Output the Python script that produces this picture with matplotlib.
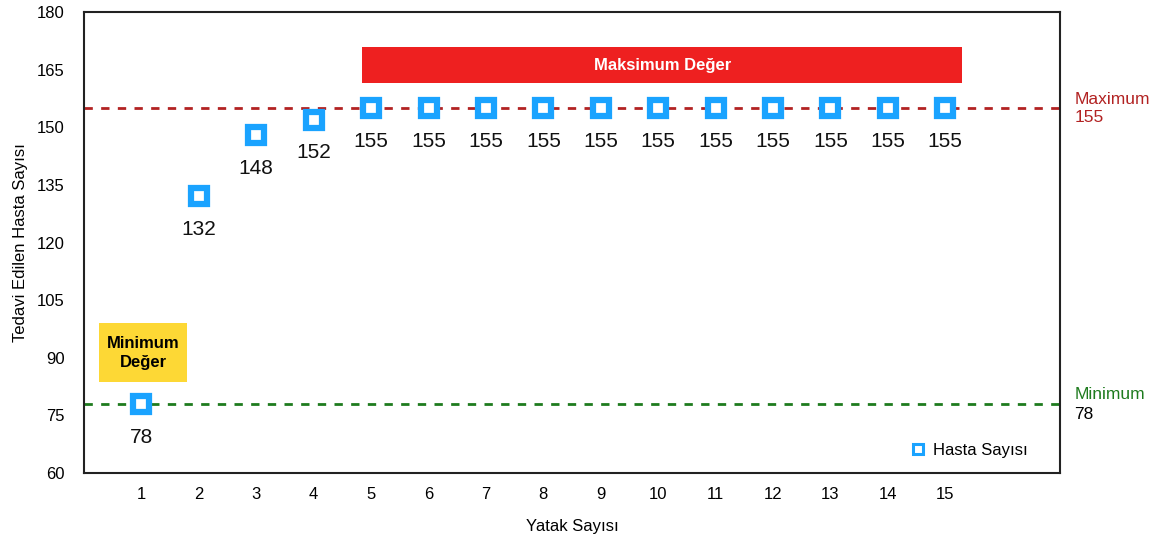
import numpy as np
import matplotlib
matplotlib.use('Agg')
import matplotlib.pyplot as plt
from matplotlib.patches import Rectangle
from matplotlib.lines import Line2D

plt.rcParams['font.family'] = ['Liberation Sans', 'DejaVu Sans']

# Data
#-----------------------------------------------------------------------------#
beds     = [1, 2, 3, 4, 5, 6, 7, 8, 9, 10, 11, 12, 13, 14, 15]
patients = [78, 132, 148, 152, 155, 155, 155, 155, 155, 155, 155, 155, 155, 155, 155]
y_ticks  = [60, 75, 90, 105, 120, 135, 150, 165, 180]
p_max    = max(patients)
p_min    = min(patients)

blue  = '#1AA3FF'
red   = '#B22222'
green = '#1E7B1E'

# Figure
#-----------------------------------------------------------------------------#
fig = plt.figure(figsize=(11.56, 5.39), dpi=100)
ax  = fig.add_axes([0.0727, 0.1224, 0.8443, 0.8553])

ax.axhline(p_max, color=red, linestyle=(0, (3, 3)), linewidth=2, zorder=1)
ax.axhline(p_min, color=green, linestyle=(0, (3, 3)), linewidth=2, zorder=1)

ax.plot(beds, patients, linestyle='none', marker='s', markersize=11.5,
        markerfacecolor='white', markeredgecolor=blue, markeredgewidth=4.5,
        zorder=3)
for x, y in zip(beds, patients):
    ax.annotate(str(y), (x, y), xytext=(0, -24), textcoords='offset points',
                ha='center', va='center', fontsize=15, color='#111111')

# Highlight boxes
ax.add_patch(Rectangle((4.85, 161.5), 10.44, 9.4, facecolor='#EE2020',
                       edgecolor='none', zorder=2))
ax.text(10.07, 166.2, 'Maksimum Değer', ha='center', va='center',
        fontsize=12, color='white', fontweight='bold', zorder=4)
ax.add_patch(Rectangle((0.26, 83.6), 1.54, 15.4, facecolor='#FDD835',
                       edgecolor='none', zorder=2))
ax.text(1.03, 91.3, 'Minimum\nDeğer', ha='center', va='center',
        fontsize=12, color='black', fontweight='bold', linespacing=1.3, zorder=4)

# Reference line labels
ax.text(17.25, p_max, 'Maximum\n155', color=red, fontsize=12.5,
        ha='left', va='center', linespacing=1.25, clip_on=False)
ax.text(17.25, p_min + 2.4, 'Minimum', color=green, fontsize=12.5,
        ha='left', va='center', clip_on=False)
ax.text(17.25, p_min - 2.7, str(p_min), color='black', fontsize=12.5,
        ha='left', va='center', clip_on=False)

# Axes
ax.set_xlim(0, 17)
ax.set_ylim(60, 180)
ax.set_xticks(beds)
ax.set_yticks(y_ticks)
ax.tick_params(axis='both', length=0, labelsize=12, pad=10)
ax.tick_params(axis='y', pad=14)
for s in ax.spines.values():
    s.set_linewidth(1.5)
    s.set_color('#222222')
ax.set_xlabel('Yatak Sayısı', fontsize=12, labelpad=12)
ax.set_ylabel('Tedavi Edilen Hasta Sayısı', fontsize=12, labelpad=6)

handle = Line2D([], [], linestyle='none', marker='s', markersize=7,
                markerfacecolor='white', markeredgecolor=blue, markeredgewidth=2.2)
ax.legend([handle], ['Hasta Sayısı'], loc='lower right', frameon=False,
          fontsize=12, handletextpad=0.3, handlelength=1.2,
          bbox_to_anchor=(0.982, 0.0))

fig.savefig('out.png', dpi=100)
